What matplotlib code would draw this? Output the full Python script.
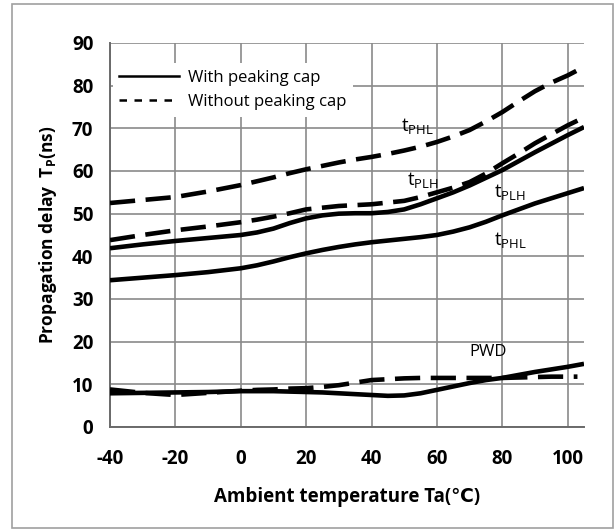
import matplotlib
matplotlib.use("Agg")
import matplotlib.pyplot as plt
from matplotlib.lines import Line2D
from matplotlib.patches import Rectangle

plt.rcParams['font.family'] = ['Open Sans', 'DejaVu Sans']
plt.rcParams['mathtext.fontset'] = 'custom'
plt.rcParams['mathtext.rm'] = 'Open Sans'
plt.rcParams['mathtext.bf'] = 'Open Sans:bold'
plt.rcParams['axes.unicode_minus'] = False

# Ambient temperature (deg C)
temp_solid = [-40, -30, -20, -10, 0, 5, 10, 15, 20, 25, 30, 35, 40, 45, 50, 55,
              60, 65, 70, 75, 80, 85, 90, 95, 100, 105]
temp_dashed = [-40, -30, -20, -10, 0, 5, 10, 15, 20, 25, 30, 35, 40, 45, 50, 55,
               60, 65, 70, 75, 80, 85, 90, 95, 100, 103]

# With peaking cap (ns)
tplh_with = [41.9, 42.8, 43.6, 44.3, 45.0, 45.6, 46.5, 47.8, 48.9, 49.6, 50.0, 50.1,
             50.1, 50.4, 51.0, 52.2, 53.6, 55.0, 56.6, 58.4, 60.2, 62.3, 64.4, 66.4,
             68.4, 70.3]
tphl_with = [34.4, 35.0, 35.6, 36.3, 37.2, 37.9, 38.8, 39.8, 40.7, 41.5, 42.2, 42.8,
             43.3, 43.7, 44.1, 44.5, 45.0, 45.8, 46.8, 48.1, 49.6, 51.0, 52.4, 53.6,
             54.8, 56.0]
pwd_with = [7.9, 8.0, 8.1, 8.2, 8.4, 8.4, 8.4, 8.3, 8.2, 8.1, 7.9, 7.7, 7.5, 7.3,
            7.4, 7.9, 8.7, 9.5, 10.3, 11.0, 11.5, 12.2, 12.9, 13.5, 14.1, 14.8]

# Without peaking cap (ns)
tplh_without = [43.8, 45.0, 46.1, 47.0, 48.0, 48.6, 49.3, 50.1, 51.0, 51.4, 51.8, 52.0,
                52.2, 52.6, 53.0, 53.9, 55.0, 56.1, 57.4, 59.4, 61.8, 64.1, 66.5, 68.6,
                70.7, 71.8]
tphl_without = [52.5, 53.2, 53.9, 55.2, 56.7, 57.6, 58.5, 59.5, 60.4, 61.2, 62.0, 62.7,
                63.3, 64.0, 64.8, 65.7, 66.8, 68.1, 69.6, 71.6, 73.8, 76.3, 78.7, 80.7,
                82.4, 83.6]
pwd_without = [8.8, 8.0, 7.5, 8.0, 8.5, 8.7, 8.8, 9.0, 9.1, 9.4, 9.8, 10.4, 11.0, 11.2,
               11.4, 11.5, 11.5, 11.5, 11.5, 11.5, 11.5, 11.6, 11.7, 11.8, 11.8, 11.8]

x_ticks = [-40, -20, 0, 20, 40, 60, 80, 100]
y_ticks = [0, 10, 20, 30, 40, 50, 60, 70, 80, 90]

fig = plt.figure(figsize=(6.16, 5.30), dpi=100)
fig.patches.append(Rectangle((12 / 616, 2 / 530), 601 / 616, 524 / 530,
                             transform=fig.transFigure, fill=False,
                             edgecolor='#a0a0a0', linewidth=1.2))
ax = fig.add_axes([110 / 616, 1 - 427 / 530, 474 / 616, 384 / 530])

lw = 3.3
for t, v in [(temp_solid, tplh_with), (temp_solid, tphl_with), (temp_solid, pwd_with)]:
    ax.plot(t, v, color='black', lw=lw, solid_capstyle='butt',
            solid_joinstyle='round', zorder=3)
for t, v in [(temp_dashed, tplh_without), (temp_dashed, tphl_without), (temp_dashed, pwd_without)]:
    ln, = ax.plot(t, v, color='black', lw=lw, dash_joinstyle='round', zorder=3)
    ln.set_dashes((5.5, 2.3))

ax.set_xlim(-40, 105)
ax.set_ylim(0, 90)
ax.set_xticks(x_ticks)
ax.set_yticks(y_ticks)
ax.grid(True, color='#8a8a8a', lw=1.2, zorder=0)
ax.set_axisbelow(True)
for s in ['top', 'right']:
    ax.spines[s].set_visible(False)
for s in ['left', 'bottom']:
    ax.spines[s].set_color('#6a6a6a')
    ax.spines[s].set_linewidth(1.4)
ax.tick_params(axis='y', length=0, pad=12, labelsize=13.5)
ax.tick_params(axis='x', length=0, pad=16, labelsize=13.5)
for lab in ax.get_xticklabels() + ax.get_yticklabels():
    lab.set_fontweight('bold')

ax.set_xlabel('Ambient temperature Ta(\u2103)', fontsize=13.5, fontweight='bold', labelpad=13)
ax.set_ylabel(r'Propagation delay  T$_{\mathbf{P}}$(ns)', fontsize=12.5,
              fontweight='bold', labelpad=9)

# Curve annotations
lab_kw = dict(fontsize=13.5, color='black', zorder=4)
ax.text(49, 70.5, r'$\mathregular{t_{PHL}}$', ha='left', va='center', **lab_kw)
ax.text(51, 57.8, r'$\mathregular{t_{PLH}}$', ha='left', va='center', **lab_kw)
ax.text(77.5, 55, r'$\mathregular{t_{PLH}}$', ha='left', va='center', **lab_kw)
ax.text(77.5, 43.8, r'$\mathregular{t_{PHL}}$', ha='left', va='center', **lab_kw)
ax.text(70, 17.6, 'PWD', ha='left', va='center', fontsize=12, zorder=4)

handles = [Line2D([], [], color='black', lw=1.8),
           Line2D([], [], color='black', lw=1.8, dashes=(3, 3))]
leg = ax.legend(handles, ['With peaking cap', 'Without peaking cap'],
                loc='upper left', bbox_to_anchor=(-0.012, 0.97), fontsize=12,
                frameon=True, facecolor='white', edgecolor='none', framealpha=1,
                handlelength=3.6, handletextpad=0.5, labelspacing=0.5,
                borderpad=0.4, fancybox=False)
leg.set_zorder(2)

fig.savefig('out.png', dpi=100)
